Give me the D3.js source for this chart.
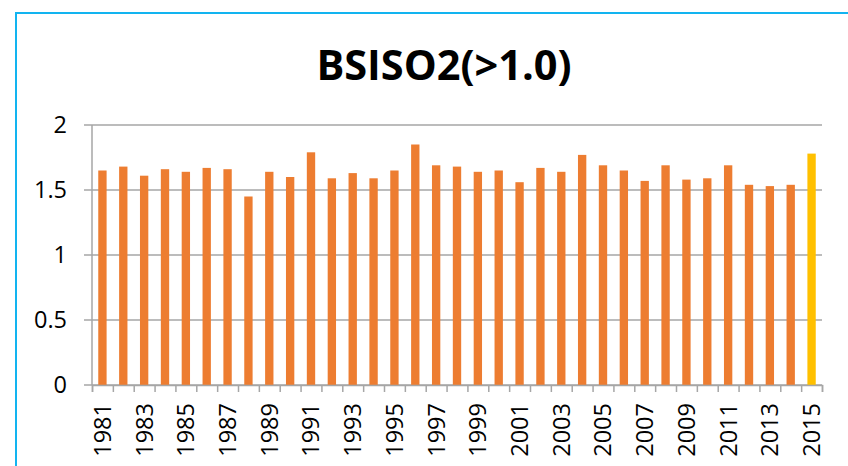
<!DOCTYPE html>
<html>
<head>
<meta charset="utf-8">
<script src="https://cdn.jsdelivr.net/npm/d3@7"></script>
<style>
  html, body { margin: 0; padding: 0; background: #fff; }
  svg { display: block; }
  text { font-family: "Open Sans", Lato, sans-serif; fill: #000; }
</style>
</head>
<body>
<svg id="chart" width="848" height="466"></svg>
<script>
// Yearly BSISO2 index (> 1.0), 1981–2015
const years = d3.range(1981, 2016);
const values = [
  1.65, 1.68, 1.61, 1.66, 1.64, 1.67, 1.66, 1.45, 1.64, 1.60,
  1.79, 1.59, 1.63, 1.59, 1.65, 1.85, 1.69, 1.68, 1.64, 1.65,
  1.56, 1.67, 1.64, 1.77, 1.69, 1.65, 1.57, 1.69, 1.58, 1.59,
  1.69, 1.54, 1.53, 1.54, 1.78
];
const yTicks = [0, 0.5, 1, 1.5, 2];
const yTickLabels = ["0", "0.5", "1", "1.5", "2"];
const highlightYear = 2015;
const title = "BSISO2(>1.0)";

const data = years.map((y, i) => ({ year: y, value: values[i] }));

const svg = d3.select("#chart");
const plot = { left: 92, right: 822, top: 125, bottom: 385 };
const gridColor = "#a6a6a6";

// outer frame (left and top edges visible)
svg.append("rect")
  .attr("x", 16).attr("y", 13)
  .attr("width", 900).attr("height", 520)
  .attr("fill", "none")
  .attr("stroke", "#12b4f0")
  .attr("stroke-width", 2);

const x = d3.scaleBand()
  .domain(years)
  .range([plot.left, plot.right])
  .paddingInner(0.6)
  .paddingOuter(0.3);

const xEdge = d3.scaleLinear()
  .domain([0, years.length])
  .range([plot.left, plot.right]);

const y = d3.scaleLinear()
  .domain([0, 2])
  .range([plot.bottom, plot.top]);

// horizontal gridlines with short ticks left of the axis
svg.append("g")
  .selectAll("line")
  .data(yTicks)
  .join("line")
  .attr("x1", plot.left - 8)
  .attr("x2", plot.right)
  .attr("y1", d => y(d))
  .attr("y2", d => y(d))
  .attr("stroke", gridColor)
  .attr("stroke-width", 1.5);

// y axis line
svg.append("line")
  .attr("x1", plot.left).attr("x2", plot.left)
  .attr("y1", plot.top).attr("y2", plot.bottom)
  .attr("stroke", gridColor)
  .attr("stroke-width", 1.5);

// y tick labels
svg.append("g")
  .selectAll("text")
  .data(yTicks)
  .join("text")
  .attr("x", 67)
  .attr("y", d => y(d))
  .attr("dy", "0.36em")
  .attr("text-anchor", "end")
  .attr("font-size", 23.5)
  .text((d, i) => yTickLabels[i]);

// bars
svg.append("g")
  .selectAll("rect")
  .data(data)
  .join("rect")
  .attr("x", d => x(d.year))
  .attr("width", x.bandwidth())
  .attr("y", d => y(d.value))
  .attr("height", d => y(0) - y(d.value))
  .attr("fill", d => d.year === highlightYear ? "#ffc000" : "#ed7d31");

// x axis with ticks on category boundaries
const xAxis = svg.append("g")
  .attr("transform", `translate(0,${plot.bottom})`)
  .call(d3.axisBottom(xEdge)
    .tickValues(d3.range(years.length + 1))
    .tickSize(7)
    .tickFormat(""));
xAxis.selectAll("line, path")
  .attr("stroke", gridColor)
  .attr("stroke-width", 1.5);

// year labels (every other year), rotated
svg.append("g")
  .selectAll("text")
  .data(years.filter((d, i) => i % 2 === 0))
  .join("text")
  .attr("transform", d => `translate(${x(d) + x.bandwidth() / 2},403) rotate(-90)`)
  .attr("dy", "0.36em")
  .attr("text-anchor", "end")
  .attr("font-size", 23.5)
  .text(d => d);

// title
svg.append("text")
  .attr("x", 444)
  .attr("y", 80)
  .attr("text-anchor", "middle")
  .attr("font-size", 41.5)
  .attr("font-weight", "bold")
  .text(title);
</script>
</body>
</html>
